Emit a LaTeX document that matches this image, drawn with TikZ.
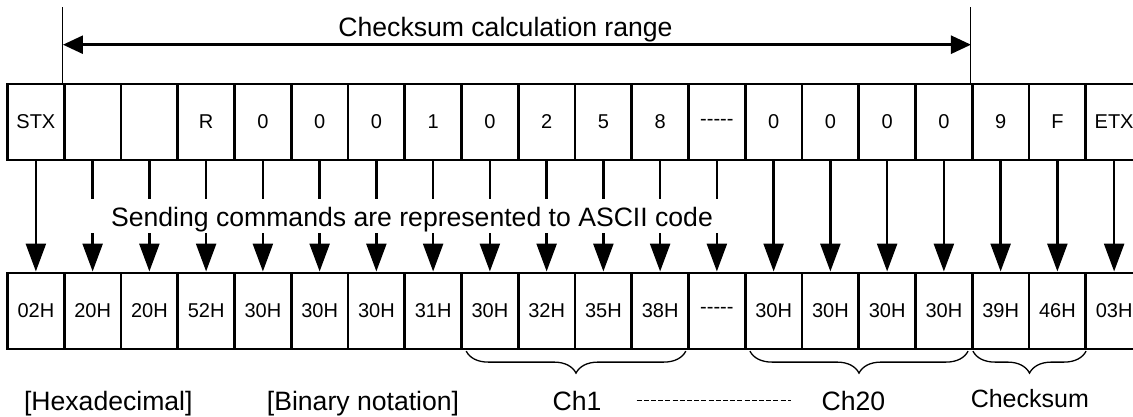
\documentclass[tikz,border=0pt]{standalone}
\usepackage{fontspec}
\setmainfont{Liberation Sans}
\usetikzlibrary{arrows.meta,decorations.pathreplacing}
\newcommand\hfive{-{}-{}-{}-{}-}
\tikzset{
    cell/.style={draw,line width=2.6pt,minimum width=56.75pt,minimum height=76pt,inner sep=0pt,font=\fontsize{20}{24}\selectfont},
    feed/.style={line width=2.6pt,-{Triangle[length=28pt,width=20pt]}},
    stub/.style={line width=2.6pt},
    rng/.style={line width=2.6pt,{Triangle[length=20pt,width=18pt]}-{Triangle[length=20pt,width=18pt]}},
    guide/.style={line width=1pt},
    grp/.style={decorate,decoration={brace,mirror,amplitude=22pt},line width=1.3pt},
    big/.style={font=\fontsize{26.6}{30}\selectfont,inner sep=0pt}
}
\begin{document}
\begin{tikzpicture}[x=1pt,y=-1pt]
    \useasboundingbox (0,0) rectangle (1133,417);
    \def\w{56.75}
    \foreach \t [count=\i] in {STX,{},{},R,0,0,0,1,0,2,5,8,\hfive,0,0,0,0,9,F,ETX} {
        \node [cell] (t\i) at (7.5+\i*\w-0.5*\w,122) {\t};
    }
    \foreach \t [count=\i] in {02H,20H,20H,52H,30H,30H,30H,31H,30H,32H,35H,38H,\hfive,30H,30H,30H,30H,39H,46H,03H} {
        \node [cell] (b\i) at (7.5+\i*\w-0.5*\w,310.8) {\t};
    }
    \foreach \i in {1,14,15,...,20} {
        \draw [feed] (t\i.south) -- (b\i.north);
    }
    \foreach \i in {2,...,13} {
        \draw [stub] (t\i.south) -- ([yshift=-38pt]t\i.south);
        \draw [feed] ([yshift=38.5pt]b\i.north) -- (b\i.north);
    }
    \coordinate (ra) at ([yshift=76pt]t2.north west);
    \coordinate (rb) at ([yshift=76pt]t18.north west);
    \draw [guide] (t2.north west) -- (ra);
    \draw [guide] (t18.north west) -- (rb);
    \draw [rng] ([yshift=-38pt]ra) -- ([yshift=-38pt]rb);
    \node [big,anchor=base] (title) at (505.5,37) {Checksum calculation range};
    \node [big,anchor=base] (note) at (412,226) {Sending commands are represented to ASCII code};
    \draw [grp] ([xshift=6pt,yshift=-1pt]b9.south west) -- ([xshift=-4pt,yshift=-1pt]b12.south east);
    \draw [grp] ([xshift=6pt,yshift=-1pt]b14.south west) -- ([xshift=-5.5pt,yshift=-1pt]b17.south east);
    \draw [grp] ([xshift=2pt,yshift=-1pt]b18.south west) -- ([xshift=-1pt,yshift=-1pt]b19.south east);
    \node [big,anchor=base] (ch1) at (577,410) {Ch1};
    \node [big,anchor=base] (ch20) at (853.5,410) {Ch20};
    \node [big,anchor=base,font=\fontsize{25}{30}\selectfont] (sum) at (1029.8,407) {Checksum};
    \draw [line width=1.2pt,dash pattern=on 5pt off 2.2pt,shorten <=35pt,shorten >=30.5pt] (ch1) -- (ch20);
    \node [big,anchor=base] (hex) at (108.3,410.5) {[Hexadecimal]};
    \node [big,anchor=base] (bin) at (363,410.5) {[Binary notation]};
\end{tikzpicture}
\end{document}
